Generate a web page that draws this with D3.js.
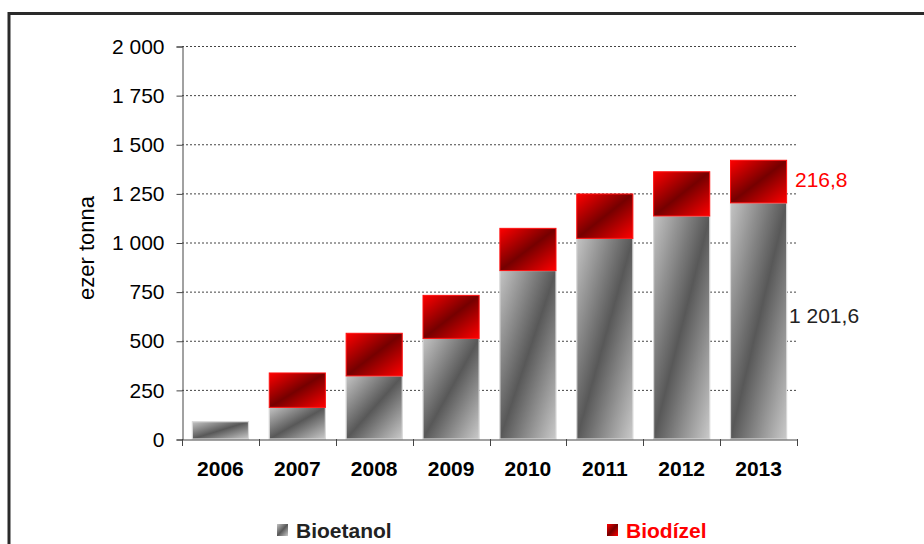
<!DOCTYPE html>
<html>
<head>
<meta charset="utf-8">
<script src="https://cdn.jsdelivr.net/npm/d3@7"></script>
<style>
body { margin: 0; background: #fff; }
text { font-family: Arial, "Liberation Sans", sans-serif; }
</style>
</head>
<body>
<div class="chart"></div>
<script>
const years = ["2006", "2007", "2008", "2009", "2010", "2011", "2012", "2013"]
const bioetanol = [88, 161, 321, 512, 857, 1021, 1135, 1201.6]
const biodizel = [0, 175, 217, 219, 215, 226, 225, 216.8]
const yTicks = [0, 250, 500, 750, 1000, 1250, 1500, 1750, 2000]
const seriesNames = ["Bioetanol", "Biodízel"]

let width = 924
let height = 544

let svg = d3.select(".chart").append("svg")
.attr("width", width)
.attr("height", height)

let defs = svg.append("defs")

const grad = (id, stops) => {
	let g = defs.append("linearGradient")
	.attr("id", id)
	.attr("x1", 0).attr("y1", 0).attr("x2", 1).attr("y2", 1)
	stops.forEach(s => g.append("stop").attr("offset", s[0]).attr("stop-color", s[1]))
}
grad("gGrey", [[0, "#c4c4c4"], [0.5, "#585858"], [1, "#cacaca"]])
grad("gRed", [[0, "#ff0000"], [0.5, "#760000"], [1, "#ff0000"]])

// frame
svg.append("path")
.attr("d", "M9,560 V13.5 H940")
.attr("fill", "none")
.attr("stroke", "#2a2a2a")
.attr("stroke-width", 3)

let x = d3.scaleBand()
.domain(years)
.range([182, 797])
.paddingInner(0.27)
.paddingOuter(0.135)

let y = d3.scaleLinear()
.domain([0, 2000])
.range([439, 46])

let fmt = v => d3.format(",")(v).replace(/,/g, " ")

// gridlines
svg.append("g").selectAll("line")
.data(yTicks.filter(d => d > 0))
.enter()
.append("line")
.attr("x1", 182).attr("x2", 797)
.attr("y1", d => y(d) + 0.5).attr("y2", d => y(d) + 0.5)
.attr("stroke", "#444")
.attr("stroke-dasharray", "2,2")

let yAxis = svg.append("g")
.attr("transform", "translate(182.5,0.5)")
.call(d3.axisLeft(y).tickValues(yTicks).tickFormat(fmt).tickSize(6).tickPadding(12))
yAxis.select(".domain").attr("stroke", "#444")
yAxis.selectAll(".tick line").attr("stroke", "#444")
yAxis.selectAll("text").attr("font-size", 21).attr("fill", "#000")

let stacked = years.map((yr, i) => ({ year: yr, a: bioetanol[i], b: biodizel[i] }))

// bars
svg.append("g").selectAll("rect")
.data(stacked)
.enter()
.append("rect")
.attr("x", d => x(d.year))
.attr("width", x.bandwidth())
.attr("y", d => y(d.a))
.attr("height", d => y(0) - y(d.a))
.attr("fill", "url(#gGrey)")
.attr("stroke", "#d8d8d8")
.attr("stroke-width", 1.2)

svg.append("g").selectAll("rect")
.data(stacked.filter(d => d.b > 0))
.enter()
.append("rect")
.attr("x", d => x(d.year))
.attr("width", x.bandwidth())
.attr("y", d => y(d.a + d.b))
.attr("height", d => y(d.a) - y(d.a + d.b))
.attr("fill", "url(#gRed)")
.attr("stroke", "#ff1010")
.attr("stroke-width", 1)

let xAxis = svg.append("g")
.attr("transform", "translate(0,439.5)")
.call(d3.axisBottom(x).tickSize(0).tickPadding(22))
xAxis.select(".domain").attr("stroke", "#444")
xAxis.selectAll("text").attr("font-size", 21).attr("font-weight", "bold").attr("fill", "#000")

// tick marks between categories
svg.append("g").selectAll("line")
.data(d3.range(years.length + 1))
.enter()
.append("line")
.attr("x1", i => Math.round(182 + i * x.step()) + 0.5)
.attr("x2", i => Math.round(182 + i * x.step()) + 0.5)
.attr("y1", 439).attr("y2", 446)
.attr("stroke", "#444")

// value labels for 2013
let last = stacked[stacked.length - 1]
svg.append("text")
.attr("x", 795)
.attr("y", y(last.a + last.b / 2) - 2)
.attr("dy", "0.35em")
.attr("font-size", 21)
.attr("fill", "#ff0000")
.text(d3.format(".1f")(last.b).replace(".", ","))

svg.append("text")
.attr("x", 789)
.attr("y", y(last.a / 2) - 5)
.attr("dy", "0.35em")
.attr("font-size", 21)
.attr("fill", "#222")
.text(fmt(Math.floor(last.a)) + "," + Math.round((last.a % 1) * 10))

// y title
svg.append("text")
.attr("transform", "translate(94,248) rotate(-90)")
.attr("text-anchor", "middle")
.attr("font-size", 22)
.attr("fill", "#000")
.text("ezer tonna")

// legend
let legend = svg.append("g").selectAll("g")
.data(seriesNames)
.enter()
.append("g")
.attr("transform", (d, i) => "translate(" + [277, 607][i] + ",524)")

legend.append("rect")
.attr("width", 11).attr("height", 12)
.attr("fill", (d, i) => i ? "url(#gRed)" : "url(#gGrey)")

legend.append("text")
.attr("x", 19)
.attr("y", 14)
.attr("font-size", 21)
.attr("font-weight", "bold")
.attr("fill", (d, i) => i ? "#ff0000" : "#222")
.text(d => d)
</script>
</body>
</html>
